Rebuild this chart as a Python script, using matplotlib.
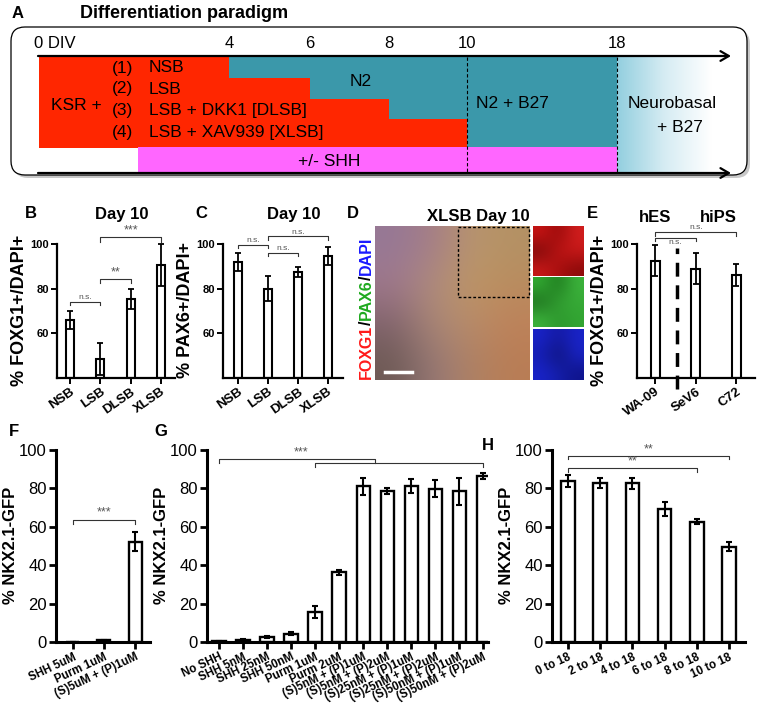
import numpy as np
import matplotlib
matplotlib.use("Agg")
import matplotlib.pyplot as plt
from matplotlib.patches import Rectangle, FancyBboxPatch
from matplotlib.colors import LinearSegmentedColormap

plt.rcParams['font.family'] = ['Liberation Sans', 'DejaVu Sans']

# ---------------- data ----------------
days = [0, 4, 6, 8, 10, 18]
day_labels = ['0 DIV', '4', '6', '8', '10', '18']
cond_nums = ['(1)', '(2)', '(3)', '(4)']
cond_names = ['NSB', 'LSB', 'LSB + DKK1 [DLSB]', 'LSB + XAV939 [XLSB]']
cond_end_day = [4, 6, 8, 10]

b_cats = ['NSB', 'LSB', 'DLSB', 'XLSB']
b_vals = [66, 48.5, 75.5, 90.5]
b_errs = [4.2, 7, 4.5, 9.3]

c_cats = ['NSB', 'LSB', 'DLSB', 'XLSB']
c_vals = [92, 80, 87.5, 94.8]
c_errs = [4, 5.5, 2.3, 4]

e_cats = ['WA-09', 'SeV6', 'C72']
e_vals = [92.5, 89, 86]
e_errs = [7, 7, 5]

f_cats = ['SHH 5uM', 'Purm 1uM', '(S)5uM + (P)1uM']
f_vals = [0, 0.8, 52.3]
f_errs = [0, 0.2, 5]

g_cats = ['No SHH', 'SHH 5nM', 'SHH 25nM', 'SHH 50nM', 'Purm 1uM', 'Purm 2uM',
          '(S)5nM + (P)1uM', '(S)5nM + (P)2uM', '(S)25nM + (P)1uM',
          '(S)25nM + (P)2uM', '(S)50nM + (P)1uM', '(S)50nM + (P)2uM']
g_vals = [0.3, 1.3, 2.5, 4.3, 15.7, 36.3, 81, 78.6, 81.2, 79.8, 78.6, 86.4]
g_errs = [0.1, 0.4, 0.6, 0.7, 3.3, 1.4, 4.5, 1.5, 3.8, 4.5, 7, 1.7]

h_cats = ['0 to 18', '2 to 18', '4 to 18', '6 to 18', '8 to 18', '10 to 18']
h_vals = [83.9, 82.6, 82.6, 69.3, 62.7, 49.7]
h_errs = [3.1, 2.6, 2.7, 3.5, 1.4, 2.2]

# ---------------- figure ----------------
W, H = 762, 719
fig = plt.figure(figsize=(W / 100, H / 100), dpi=100)

bg = fig.add_axes([0, 0, 1, 1])
bg.set_xlim(0, W)
bg.set_ylim(H, 0)
bg.axis('off')

RED = '#ff2600'
TEAL = '#3b98aa'
PINK = '#ff66ff'

# ---- Panel A ----
bg.add_patch(FancyBboxPatch((14, 30), 736, 148, boxstyle="round,pad=0,rounding_size=14",
                            fc='#c8c8c8', ec='none', zorder=0))
bg.add_patch(FancyBboxPatch((11, 27), 736, 148, boxstyle="round,pad=0,rounding_size=14",
                            fc='white', ec='black', lw=0.9, zorder=1))
bg.text(12, 13, 'A', fontsize=12, fontweight='bold', va='center', ha='left')
bg.text(80, 13, 'Differentiation paradigm', fontsize=13, fontweight='bold', va='center', ha='left')

day_px = {0: 39, 4: 229, 6: 310, 8: 389, 10: 467, 18: 617}
row_y = [57, 78, 99, 119, 147]
for i, d in enumerate(cond_end_day):
    y0, y1 = row_y[i], row_y[i + 1]
    bg.add_patch(Rectangle((day_px[0], y0), day_px[d] - day_px[0], y1 - y0 + 0.5,
                           fc=RED, ec='none', zorder=2))
    bg.add_patch(Rectangle((day_px[d], y0), day_px[18] - day_px[d], y1 - y0 + 0.5,
                           fc=TEAL, ec='none', zorder=2))
# SHH band
bg.add_patch(Rectangle((138, 147), day_px[18] - 138, 25, fc=PINK, ec='none', zorder=2))
# gradient (Neurobasal)
grad_cmap = LinearSegmentedColormap.from_list('g', ['#93cfdf', '#d6ecf3', '#ffffff'])
bg.imshow(np.linspace(0, 1, 200)[None, :], cmap=grad_cmap, aspect='auto',
          extent=(day_px[18], 712, 172, 57), zorder=2)
bg.set_xlim(0, W)
bg.set_ylim(H, 0)
for d in (10, 18):
    bg.plot([day_px[d], day_px[d]], [57, 172], color='black', lw=0.8, ls=(0, (3, 2)), zorder=3)
for yy in (56, 173):
    bg.annotate('', xy=(731, yy), xytext=(day_px[0] - 1, yy),
                arrowprops=dict(arrowstyle='->,head_length=0.6,head_width=0.35', lw=1.6,
                                color='black', shrinkA=0, shrinkB=0), zorder=4)
for d, lab in zip(days, day_labels):
    if d == 0:
        bg.text(34, 43, lab, fontsize=12, ha='left', va='center', zorder=4)
    else:
        bg.text(day_px[d], 43, lab, fontsize=12, ha='center', va='center', zorder=4)
cond_y = [68, 89, 110, 132]
for n, name, yy in zip(cond_nums, cond_names, cond_y):
    bg.text(112, yy, n, fontsize=12.5, ha='left', va='center', zorder=4)
    bg.text(149, yy, name, fontsize=12.5, ha='left', va='center', zorder=4)
bg.text(51, 106, 'KSR +', fontsize=12.5, ha='left', va='center', zorder=4)
bg.text(361, 81, 'N2', fontsize=12.5, ha='center', va='center', zorder=4)
bg.text(512, 104, 'N2 + B27', fontsize=12.5, ha='center', va='center', zorder=4)
bg.text(672, 104, 'Neurobasal', fontsize=12.5, ha='center', va='center', zorder=4)
bg.text(680, 127, '+ B27', fontsize=12.5, ha='center', va='center', zorder=4)
bg.text(329, 162, '+/- SHH', fontsize=12.5, ha='center', va='center', zorder=4)

# ---- Panel D (image) ----
img_main = np.array([
    [[150, 120, 150], [165, 125, 135], [185, 150, 110], [180, 145, 100]],
    [[160, 120, 140], [175, 140, 125], [190, 150, 100], [185, 140, 95]],
    [[130, 100, 110], [170, 135, 120], [185, 140, 105], [190, 130, 90]],
    [[110, 90, 85], [150, 120, 120], [175, 130, 100], [185, 125, 85]],
]) / 255.0
bg.imshow(img_main, extent=(375, 530, 380, 226), interpolation='bicubic', zorder=2)
img_r = np.array([[[200, 20, 20], [150, 10, 10], [210, 30, 30]],
                  [[120, 10, 10], [190, 20, 20], [200, 25, 25]],
                  [[200, 25, 25], [170, 15, 15], [140, 10, 10]]]) / 255.0
img_g = np.array([[[50, 170, 50], [30, 120, 30], [60, 180, 60]],
                  [[30, 110, 30], [50, 160, 50], [55, 170, 55]],
                  [[60, 180, 60], [45, 150, 45], [50, 165, 50]]]) / 255.0
img_b = np.array([[[25, 35, 200], [20, 25, 160], [25, 35, 200]],
                  [[20, 30, 180], [15, 20, 120], [25, 35, 195]],
                  [[25, 35, 200], [20, 30, 170], [15, 20, 140]]]) / 255.0
bg.imshow(img_r, extent=(533, 584, 276, 226), interpolation='bicubic', zorder=2)
bg.imshow(img_g, extent=(533, 584, 327, 277), interpolation='bicubic', zorder=2)
bg.imshow(img_b, extent=(533, 584, 380, 329), interpolation='bicubic', zorder=2)
bg.set_xlim(0, W)
bg.set_ylim(H, 0)
bg.add_patch(Rectangle((458, 227), 71, 70, fc='none', ec='black', lw=1.0,
                       ls=(0, (2, 1.5)), zorder=3))
bg.plot([385, 412], [372, 372], color='white', lw=2.5, zorder=3)
bg.text(353, 213, 'D', fontsize=12, fontweight='bold', ha='center', va='center')
bg.text(478, 216, 'XLSB Day 10', fontsize=12, fontweight='bold', ha='center', va='center')
t = bg.text(366, 379, 'FOXG1', color='#ff1a1a', fontsize=11.5, fontweight='bold',
            rotation=90, ha='center', va='bottom')
for s, c in [('/', 'black'), ('PAX6', '#1faa1f'), ('/', 'black'), ('DAPI', '#1a1aff')]:
    t = bg.annotate(s, xy=(0.5, 1.0), xycoords=t, color=c, fontsize=11.5,
                    fontweight='bold', rotation=90, ha='center', va='bottom')

# ---- Panel letters / titles ----
bg.text(31, 213, 'B', fontsize=12, fontweight='bold', ha='center', va='center')
bg.text(122, 215, 'Day 10', fontsize=12, fontweight='bold', ha='center', va='center')
bg.text(201, 213, 'C', fontsize=12, fontweight='bold', ha='center', va='center')
bg.text(294, 215, 'Day 10', fontsize=12, fontweight='bold', ha='center', va='center')
bg.text(592, 213, 'E', fontsize=12, fontweight='bold', ha='center', va='center')
bg.text(655, 217, 'hES', fontsize=12, fontweight='bold', ha='center', va='center')
bg.text(718, 217, 'hiPS', fontsize=12, fontweight='bold', ha='center', va='center')
bg.text(14, 432, 'F', fontsize=12, fontweight='bold', ha='center', va='center')
bg.text(161, 432, 'G', fontsize=12, fontweight='bold', ha='center', va='center')
bg.text(488, 445, 'H', fontsize=12, fontweight='bold', ha='center', va='center')


def make_axes(left, right, bottom_px, top_px):
    return fig.add_axes([left / W, 1 - bottom_px / H, (right - left) / W, (bottom_px - top_px) / H])


def style(ax, spine_lw):
    ax.patch.set_alpha(0)
    for s in ('top', 'right'):
        ax.spines[s].set_visible(False)
    for s in ('left', 'bottom'):
        ax.spines[s].set_linewidth(spine_lw)


def bracket(ax, x1, x2, y, drop, text, fs, below=False, tx=None, color='#333333'):
    ax.plot([x1, x1, x2, x2], [y - drop, y, y, y - drop], color=color, lw=0.8, clip_on=False)
    if tx is None:
        tx = (x1 + x2) / 2
    if below:
        ax.text(tx, y - 0.6, text, fontsize=fs, ha='center', va='top', color='#555555', clip_on=False)
    else:
        ax.text(tx, y + 0.3, text, fontsize=fs, ha='center', va='bottom', color='#555555', clip_on=False)


def small_panel(left, right, xlim, cats, vals, errs, bw, ylabel):
    top_px = 378 - (101 - 40) * 134 / 60
    ax = make_axes(left, right, 378, top_px)
    x = np.arange(len(cats))
    ax.bar(x, np.array(vals) - 40, bottom=40, width=bw, color='white', edgecolor='black', lw=1.5, zorder=2)
    ax.errorbar(x, vals, yerr=errs, fmt='none', ecolor='black', elinewidth=1.3,
                capsize=2.2, capthick=1.3, zorder=3)
    ax.set_xlim(*xlim)
    ax.set_ylim(40, 101)
    ax.spines['left'].set_bounds(40, 100)
    ax.set_yticks([60, 80, 100])
    ax.set_xticks(x)
    ax.set_xticklabels(cats, rotation=35, ha='right', rotation_mode='anchor',
                       fontsize=9.5, fontweight='bold')
    for lab in ax.get_yticklabels():
        lab.set_fontweight('bold')
        lab.set_fontsize(8)
    ax.tick_params(axis='both', direction='out', length=4, width=1.4, pad=1.5)
    ax.set_ylabel(ylabel, fontsize=13, fontweight='bold', labelpad=2)
    style(ax, 1.6)
    return ax


axB = small_panel(57, 175, (-0.43, 3.46), b_cats, b_vals, b_errs, 0.27, '% FOXG1+/DAPI+')
bracket(axB, 0, 1, 74.2, 1.5, 'n.s.', 6)
bracket(axB, 1, 2, 84.4, 1.8, '**', 9)
bracket(axB, 1, 3, 103, 2.0, '***', 9)

axC = small_panel(223, 343, (-0.5, 3.5), c_cats, c_vals, c_errs, 0.27, '% PAX6+/DAPI+')
bracket(axC, 0, 1, 99.7, 1.6, 'n.s.', 6)
bracket(axC, 1, 2, 96.0, 1.5, 'n.s.', 6)
bracket(axC, 1, 3, 103.4, 1.8, 'n.s.', 6)

axE = small_panel(637, 755, (-0.45, 2.46), e_cats, e_vals, e_errs, 0.22, '% FOXG1+/DAPI+')
axE.plot([0.54, 0.54], [35, 98], color='black', lw=2.5, ls=(0, (4, 2.5)), clip_on=False, zorder=4)
bracket(axE, 0, 2, 105.4, 1.6, 'n.s.', 6)
bracket(axE, 0, 1, 102.7, 1.5, 'n.s.', 6, below=True)


def big_panel(left, right, xlim, cats, vals, errs, bw):
    top_px = 642 - 101 * 1.92
    ax = make_axes(left, right, 642, top_px)
    x = np.arange(len(cats))
    ax.bar(x, vals, width=bw, color='white', edgecolor='black', lw=1.7, zorder=2)
    ax.errorbar(x, vals, yerr=errs, fmt='none', ecolor='black', elinewidth=1.5,
                capsize=2.5, capthick=1.5, zorder=3)
    ax.set_xlim(*xlim)
    ax.set_ylim(0, 101)
    ax.spines['left'].set_bounds(0, 100)
    ax.set_yticks([0, 20, 40, 60, 80, 100])
    ax.set_xticks(x)
    ax.set_xticklabels(cats, rotation=25, ha='right', rotation_mode='anchor',
                       fontsize=8.3, fontweight='bold')
    for lab in ax.get_yticklabels():
        lab.set_fontsize(12)
    ax.tick_params(axis='both', direction='out', length=5, width=2, pad=1.5)
    ax.set_ylabel('% NKX2.1-GFP', fontsize=12, fontweight='bold', labelpad=1)
    style(ax, 2.2)
    return ax


axF = big_panel(56, 150, (-0.54, 2.48), f_cats, f_vals, f_errs, 0.42)
bracket(axF, 0, 2, 63.8, 2.1, '***', 9)

axG = big_panel(207, 488, (-0.5, 11.2), g_cats, g_vals, g_errs, 0.55)
axG.plot([0, 0, 6.5, 6.5], [93.1, 95.3, 95.3, 93.1], color='#333333', lw=0.8, clip_on=False)
axG.plot([4, 4, 11, 11], [91.3, 93.1, 93.1, 91.3], color='#333333', lw=0.8, clip_on=False)
axG.text(3.4, 95.6, '***', fontsize=9, ha='center', va='bottom', color='#555555')

axH = big_panel(552, 745, (-0.5, 5.5), h_cats, h_vals, h_errs, 0.42)
bracket(axH, 0, 5, 96.9, 1.8, '**', 9)
bracket(axH, 0, 4, 90.5, 1.8, '**', 9)

fig.savefig('out.png', dpi=100)
